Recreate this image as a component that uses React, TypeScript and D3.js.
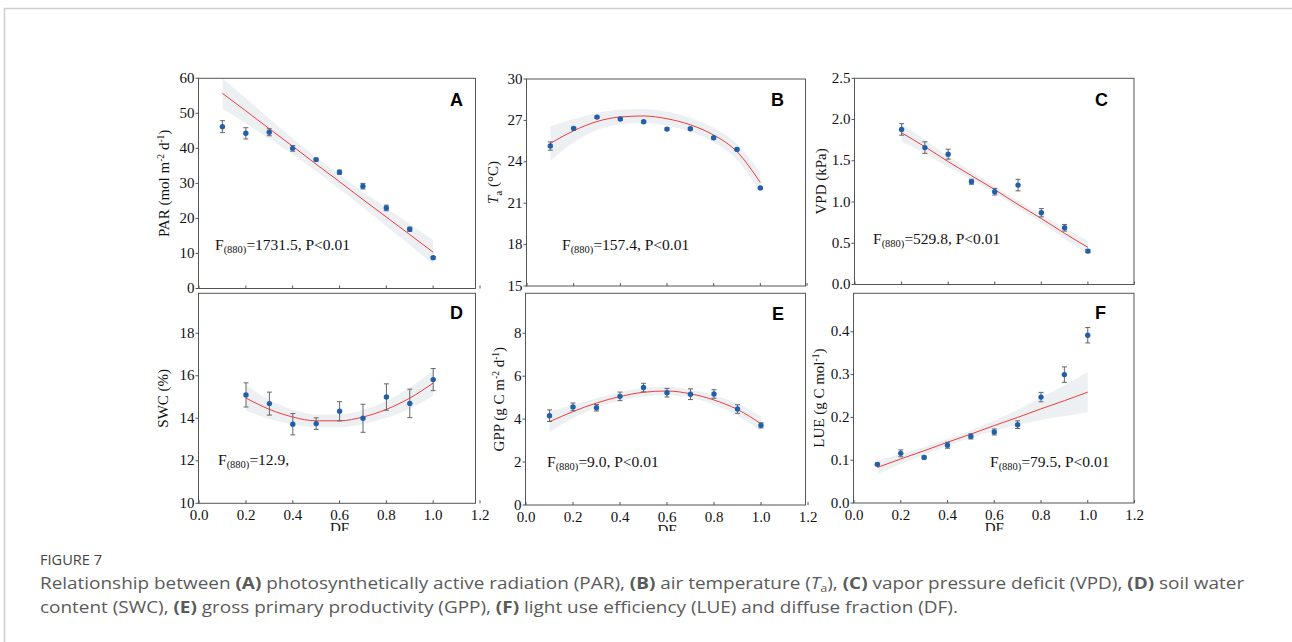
import React, { useLayoutEffect, useRef, useState } from "react";
import * as d3 from "d3";

// ---------- DATA ----------
const dfAll = [0.1, 0.2, 0.3, 0.4, 0.5, 0.6, 0.7, 0.8, 0.9, 1.0];
const dfFrom02 = [0.2, 0.3, 0.4, 0.5, 0.6, 0.7, 0.8, 0.9, 1.0];
const xTicks = [0, 0.2, 0.4, 0.6, 0.8, 1.0, 1.2];

// A: PAR
const parMean = [46.2, 44.3, 44.6, 40.0, 36.8, 33.2, 29.2, 23.0, 16.9, 8.8];
const parErr = [1.7, 1.6, 1.0, 0.8, 0.4, 0.6, 0.8, 0.8, 0.6, 0.3];
const parFit = [55.7, 50.7, 45.6, 40.6, 35.5, 30.5, 25.4, 20.4, 15.4, 10.35];
const parBand = [4.4, 3.6, 2.9, 2.3, 2.0, 2.0, 2.2, 2.6, 3.0, 3.5];
const parTicks = [0, 10, 20, 30, 40, 50, 60];

// B: Ta
const taMean = [25.14, 26.42, 27.24, 27.1, 26.9, 26.37, 26.4, 25.74, 24.9, 22.11];
const taErr = [0.3, 0.08, 0.08, 0.08, 0.08, 0.08, 0.08, 0.08, 0.08, 0.06];
const taFit = [25.33, 26.25, 26.92, 27.25, 27.32, 27.12, 26.68, 25.94, 24.73, 22.5];
const taBand = [1.25, 0.85, 0.62, 0.52, 0.5, 0.5, 0.5, 0.52, 0.58, 0.7];
const taTicks = [15, 18, 21, 24, 27, 30];

// C: VPD
const vpdMean = [1.88, 1.66, 1.58, 1.246, 1.125, 1.205, 0.87, 0.688, 0.405];
const vpdErr = [0.07, 0.07, 0.06, 0.03, 0.04, 0.07, 0.05, 0.04, 0.02];
const vpdFit = [1.84, 1.67, 1.49, 1.32, 1.15, 0.97, 0.8, 0.62, 0.45];
const vpdBand = [0.11, 0.085, 0.065, 0.05, 0.045, 0.045, 0.05, 0.065, 0.08];
const vpdTicks = [0, 0.5, 1.0, 1.5, 2.0, 2.5];

// D: SWC
const swcMean = [15.1, 14.69, 13.72, 13.75, 14.33, 14.0, 15.0, 14.7, 15.82];
const swcErr = [0.57, 0.54, 0.5, 0.27, 0.45, 0.66, 0.62, 0.67, 0.52];
const swcFit = [14.95, 14.42, 14.06, 13.88, 13.88, 14.06, 14.42, 14.95, 15.66];
const swcBand = [0.6, 0.45, 0.35, 0.3, 0.3, 0.33, 0.4, 0.5, 0.6];
const swcTicks = [10, 12, 14, 16, 18];

// E: GPP
const gppMean = [4.16, 4.57, 4.53, 5.06, 5.47, 5.23, 5.16, 5.17, 4.47, 3.71];
const gppErr = [0.27, 0.18, 0.15, 0.2, 0.2, 0.2, 0.25, 0.2, 0.2, 0.12];
const gppFit = [3.88, 4.35, 4.75, 5.05, 5.25, 5.31, 5.18, 4.89, 4.45, 3.78];
const gppBand = [0.5, 0.3, 0.22, 0.2, 0.2, 0.2, 0.2, 0.22, 0.28, 0.35];
const gppTicks = [0, 2, 4, 6, 8];

// F: LUE
const lueMean = [0.0903, 0.116, 0.1066, 0.135, 0.1556, 0.166, 0.183, 0.2475, 0.3, 0.392];
const lueErr = [0.003, 0.008, 0.003, 0.007, 0.006, 0.007, 0.009, 0.011, 0.018, 0.018];
const lueFit = [0.083, 0.103, 0.122, 0.142, 0.161, 0.181, 0.2, 0.22, 0.239, 0.259];
const lueBand = [0.016, 0.012, 0.009, 0.008, 0.009, 0.012, 0.018, 0.026, 0.036, 0.047];
const lueTicks = [0, 0.1, 0.2, 0.3, 0.4];

const statsText = ["=1731.5, P<0.01", "=157.4, P<0.01", "=529.8, P<0.01", "=12.9,", "=9.0, P<0.01", "=79.5, P<0.01"];

// ---------- LAYOUT ----------
type YLabelPart = { t: string; kind?: "sup" | "sub" | "it" };
type Panel = {
  letter: string;
  df: number[];
  mean: number[];
  err: number[];
  fit: number[];
  band: number[];
  yDomain: [number, number];
  yTicks: number[];
  yFmt: (v: number) => string;
  xr: [number, number];
  frameX: [number, number];
  yr: [number, number];
  showXLabels: boolean;
  yLabel: YLabelPart[];
  yLabelX: number;
  stat: string;
  statPos: [number, number];
  letterPos: [number, number];
};

const fInt = (v: number) => d3.format("d")(v);
const f1 = (v: number) => d3.format(".1f")(v);

const panels: Panel[] = [
  {
    letter: "A", df: dfAll, mean: parMean, err: parErr, fit: parFit, band: parBand,
    yDomain: [0, 60], yTicks: parTicks, yFmt: fInt,
    xr: [199, 480], frameX: [198.5, 475.5], yr: [288.5, 78.3], showXLabels: false,
    yLabel: [{ t: "PAR (mol m" }, { t: "-2", kind: "sup" }, { t: " d" }, { t: "-1", kind: "sup" }, { t: ")" }],
    yLabelX: 169, stat: statsText[0], statPos: [215, 250], letterPos: [463, 106],
  },
  {
    letter: "B", df: dfAll, mean: taMean, err: taErr, fit: taFit, band: taBand,
    yDomain: [15, 30], yTicks: taTicks, yFmt: fInt,
    xr: [527, 807], frameX: [526.5, 805.5], yr: [286, 79], showXLabels: false,
    yLabel: [{ t: "T", kind: "it" }, { t: "a", kind: "sub" }, { t: " (°C)" }],
    yLabelX: 498, stat: statsText[1], statPos: [562, 250], letterPos: [784, 106],
  },
  {
    letter: "C", df: dfFrom02, mean: vpdMean, err: vpdErr, fit: vpdFit, band: vpdBand,
    yDomain: [0, 2.5], yTicks: vpdTicks, yFmt: f1,
    xr: [855, 1134.5], frameX: [854.5, 1134], yr: [284.5, 78.3], showXLabels: false,
    yLabel: [{ t: "VPD (kPa)" }],
    yLabelX: 826, stat: statsText[2], statPos: [873, 244], letterPos: [1108, 106],
  },
  {
    letter: "D", df: dfFrom02, mean: swcMean, err: swcErr, fit: swcFit, band: swcBand,
    yDomain: [10, 19.88], yTicks: swcTicks, yFmt: fInt,
    xr: [199.2, 480], frameX: [198.5, 475.5], yr: [503.3, 293.3], showXLabels: true,
    yLabel: [{ t: "SWC (%)" }],
    yLabelX: 168, stat: statsText[3], statPos: [218, 465], letterPos: [463, 319],
  },
  {
    letter: "E", df: dfAll, mean: gppMean, err: gppErr, fit: gppFit, band: gppBand,
    yDomain: [0, 9.86], yTicks: gppTicks, yFmt: fInt,
    xr: [526, 808], frameX: [525.5, 805.5], yr: [505, 293.3], showXLabels: true,
    yLabel: [{ t: "GPP (g C m" }, { t: "-2", kind: "sup" }, { t: " d" }, { t: "-1", kind: "sup" }, { t: ")" }],
    yLabelX: 504, stat: statsText[4], statPos: [547, 467], letterPos: [784, 320],
  },
  {
    letter: "F", df: dfAll, mean: lueMean, err: lueErr, fit: lueFit, band: lueBand,
    yDomain: [0, 0.49], yTicks: lueTicks, yFmt: f1,
    xr: [854, 1134.5], frameX: [853.5, 1134], yr: [503, 293.3], showXLabels: true,
    yLabel: [{ t: "LUE (g C mol" }, { t: "-1", kind: "sup" }, { t: ")" }],
    yLabelX: 824, stat: statsText[5], statPos: [990, 467], letterPos: [1106, 319],
  },
];

const SERIF = "'Liberation Serif', 'Times New Roman', serif";
const SANS = "'Liberation Sans', Arial, sans-serif";
const CAP = "'Open Sans', 'Noto Sans', sans-serif";
const AXIS = "#555";
const DOT = "#2160a8";
const RED = "#f23a3a";
const BAND = "#edf0f3";
const TICK_FS = 15;

function YLabel({ parts, x, y }: { parts: YLabelPart[]; x: number; y: number }) {
  const nodes: React.ReactNode[] = [];
  let shift = 0;
  parts.forEach((p, i) => {
    let target = 0;
    let size = 15;
    if (p.kind === "sup") { target = -5; size = 9.5; }
    if (p.kind === "sub") { target = 4; size = 10.5; }
    const dy = target - shift;
    shift = target;
    nodes.push(
      <tspan key={i} dy={dy} fontSize={size} fontStyle={p.kind === "it" ? "italic" : "normal"}>
        {p.t}
      </tspan>
    );
  });
  return (
    <text transform={`translate(${x},${y}) rotate(-90)`} textAnchor="middle" fontFamily={SERIF} fontSize={15} fill="#111">
      {nodes}
    </text>
  );
}

function PanelView({ p }: { p: Panel }) {
  const x = d3.scaleLinear().domain([0, 1.2]).range(p.xr);
  const y = d3.scaleLinear().domain(p.yDomain).range(p.yr);
  const [yBot, yTop] = p.yr;
  const idx = p.df.map((_, i) => i);
  const area = d3
    .area<number>()
    .x((i) => x(p.df[i]))
    .y0((i) => y(p.fit[i] - p.band[i]))
    .y1((i) => y(p.fit[i] + p.band[i]))
    .curve(d3.curveMonotoneX);
  const line = d3
    .line<number>()
    .x((i) => x(p.df[i]))
    .y((i) => y(p.fit[i]))
    .curve(d3.curveMonotoneX);
  const midY = (yBot + yTop) / 2;
  return (
    <g>
      <path d={area(idx) || ""} fill={BAND} />
      <path d={line(idx) || ""} fill="none" stroke={RED} strokeWidth={1} />
      {idx.map((i) => {
        const cx = x(p.df[i]);
        const yt = y(p.mean[i] + p.err[i]);
        const yb = y(p.mean[i] - p.err[i]);
        return (
          <g key={"e" + i} stroke="#666" strokeWidth={1}>
            <line x1={cx} x2={cx} y1={yt} y2={yb} />
            <line x1={cx - 2.5} x2={cx + 2.5} y1={yt} y2={yt} />
            <line x1={cx - 2.5} x2={cx + 2.5} y1={yb} y2={yb} />
          </g>
        );
      })}
      {idx.map((i) => (
        <circle key={"c" + i} cx={x(p.df[i])} cy={y(p.mean[i])} r={2.7} fill={DOT} />
      ))}
      <rect
        x={p.frameX[0]}
        y={yTop}
        width={p.frameX[1] - p.frameX[0]}
        height={yBot - yTop}
        fill="none"
        stroke={AXIS}
        strokeWidth={1}
      />
      {xTicks.map((t) => (
        <line key={"xt" + t} x1={x(t)} x2={x(t)} y1={yBot} y2={yBot - 3} stroke={AXIS} strokeWidth={1} />
      ))}
      {p.showXLabels &&
        xTicks.map((t) => (
          <text key={"xl" + t} x={x(t)} y={yBot + 16.5} textAnchor="middle" fontFamily={SERIF} fontSize={TICK_FS} fill="#111">
            {f1(t)}
          </text>
        ))}
      {p.showXLabels && (
        <text x={x(0.6)} y={yBot + 30} textAnchor="middle" fontFamily={SERIF} fontSize={TICK_FS} fill="#111">
          DF
        </text>
      )}
      {p.yTicks.map((t) => (
        <g key={"yt" + t}>
          <line x1={p.frameX[0] - 3} x2={p.frameX[0]} y1={y(t)} y2={y(t)} stroke={AXIS} strokeWidth={1} />
          <text x={p.frameX[0] - 4} y={y(t)} dy="0.3em" textAnchor="end" fontFamily={SERIF} fontSize={TICK_FS} fill="#111">
            {p.yFmt(t)}
          </text>
        </g>
      ))}
      <YLabel parts={p.yLabel} x={p.yLabelX} y={midY} />
      <text x={p.statPos[0]} y={p.statPos[1]} fontFamily={SERIF} fontSize={15.5} fill="#111">
        F
        <tspan fontSize={10.5} dy={3}>(880)</tspan>
        <tspan dy={-3}>{p.stat}</tspan>
      </text>
      <text x={p.letterPos[0]} y={p.letterPos[1]} textAnchor="end" fontFamily={SANS} fontWeight="bold" fontSize={18} fill="#000">
        {p.letter}
      </text>
    </g>
  );
}

const CAPTION_X = 40;
const LINE1_END = 1245;

export default function App() {
  const line1Ref = useRef<SVGTextElement>(null);
  const [sx, setSx] = useState(1);
  useLayoutEffect(() => {
    const el = line1Ref.current;
    if (el) {
      const w = el.getComputedTextLength();
      if (w > 0) setSx((LINE1_END - CAPTION_X) / w);
    }
  }, []);
  return (
    <svg width={1292} height={642} style={{ position: "absolute", left: 0, top: 0, background: "#fff" }}>
      <rect x={0} y={0} width={1292} height={642} fill="#fff" />
      <defs>
        <clipPath id="figclip">
          <rect x={0} y={0} width={1292} height={531} />
        </clipPath>
      </defs>
      <g clipPath="url(#figclip)">
        {panels.map((p) => (
          <PanelView key={p.letter} p={p} />
        ))}
      </g>
      <path d="M4.5,642 L4.5,8.5 L1292,8.5" fill="none" stroke="#cfcfcf" strokeWidth={1.5} />
      <text x={CAPTION_X} y={565} fontFamily={CAP} fontSize={14} fill="#444" textLength={62} lengthAdjust="spacingAndGlyphs">
        FIGURE 7
      </text>
      <g transform={`translate(${CAPTION_X},0) scale(${sx},1) translate(${-CAPTION_X},0)`}>
        <text ref={line1Ref} x={CAPTION_X} y={589} fontFamily={CAP} fontSize={16.5} fill="#5a5a5a">
          Relationship between <tspan fontWeight="bold">(A)</tspan> photosynthetically active radiation (PAR),{" "}
          <tspan fontWeight="bold">(B)</tspan> air temperature (<tspan fontStyle="italic">T</tspan>
          <tspan fontSize={11} dy={3}>a</tspan>
          <tspan dy={-3}>),</tspan> <tspan fontWeight="bold">(C)</tspan> vapor pressure deficit (VPD),{" "}
          <tspan fontWeight="bold">(D)</tspan> soil water
        </text>
        <text x={CAPTION_X} y={613} fontFamily={CAP} fontSize={16.5} fill="#5a5a5a">
          content (SWC), <tspan fontWeight="bold">(E)</tspan> gross primary productivity (GPP),{" "}
          <tspan fontWeight="bold">(F)</tspan> light use efficiency (LUE) and diffuse fraction (DF).
        </text>
      </g>
    </svg>
  );
}
